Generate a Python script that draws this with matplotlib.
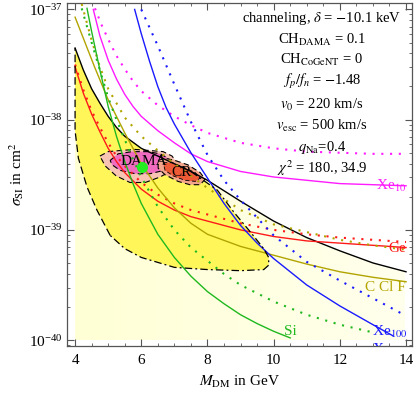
import matplotlib
matplotlib.use("Agg")
import matplotlib.pyplot as plt
from matplotlib.ticker import LogLocator, MultipleLocator, NullFormatter
import numpy as np

plt.rcParams['font.family'] = ['Liberation Serif', 'DejaVu Serif']
plt.rcParams['mathtext.fontset'] = 'stix'

# --- data (log10 of sigma_SI in cm^2) ---
m_black = [4.0, 4.25, 4.5, 4.75, 5.0, 5.25, 5.5, 6.0, 6.5, 7.0, 7.5, 8.0, 9.0, 10.0, 11.0, 12.0, 13.0, 14.0]
s_black = [-37.35, -37.55, -37.72, -37.85, -37.97, -38.07, -38.15, -38.26, -38.33, -38.40, -38.47, -38.55,
           -38.74, -38.92, -39.07, -39.19, -39.30, -39.38]

m_ge = [4.0, 4.25, 4.5, 4.75, 5.0, 5.25, 5.5, 6.0, 6.5, 7.0, 7.5, 8.0, 9.0, 10.0, 11.0, 12.0, 13.0, 14.0]
s_ge = [-37.52, -37.76, -37.95, -38.11, -38.26, -38.38, -38.48, -38.63, -38.74, -38.82, -38.88, -38.92,
        -39.00, -39.06, -39.10, -39.12, -39.14, -39.16]
s_ge_dot = [-37.50, -37.73, -37.92, -38.07, -38.21, -38.33, -38.42, -38.57, -38.68, -38.76, -38.82, -38.86,
            -38.94, -39.00, -39.04, -39.07, -39.09, -39.11]

m_cclf = [4.0, 4.3, 4.6, 5.0, 5.5, 6.0, 6.5, 7.0, 7.5, 8.0, 9.0, 10.0, 11.0, 12.0, 13.0, 14.0]
s_cclf = [-37.07, -37.30, -37.53, -37.82, -38.12, -38.40, -38.62, -38.80, -38.94, -39.04, -39.15, -39.23,
          -39.31, -39.38, -39.43, -39.47]
m_cclf_dot = [4.2, 4.5, 4.75, 5.0, 5.5, 6.0, 6.5, 7.0, 7.5, 8.0, 9.0, 10.0, 11.0, 12.0, 13.0, 14.0]
s_cclf_dot = [-36.95, -37.28, -37.52, -37.72, -37.98, -38.15, -38.28, -38.40, -38.51, -38.62, -38.82, -38.95,
              -39.02, -39.09, -39.14, -39.18]

m_si = [4.36, 4.5, 4.75, 5.0, 5.25, 5.5, 5.75, 6.0, 6.5, 7.0, 7.5, 8.0, 8.5, 9.0, 9.5, 10.0, 10.5]
s_si = [-36.99, -37.20, -37.55, -37.88, -38.15, -38.38, -38.58, -38.76, -39.04, -39.25, -39.42, -39.56,
        -39.67, -39.77, -39.85, -39.92, -39.98]
m_si_dot = [4.2, 4.5, 4.8, 5.0, 5.25, 5.5, 5.75, 6.0, 6.5, 7.0, 7.5, 8.0, 8.5, 9.0, 10.0, 11.0, 12.0, 13.0]
s_si_dot = [-36.99, -37.30, -37.60, -37.80, -38.00, -38.18, -38.36, -38.52, -38.79, -39.00, -39.16, -39.28,
            -39.40, -39.50, -39.65, -39.77, -39.86, -39.93]

m_xe10 = [4.55, 4.75, 5.0, 5.25, 5.5, 5.75, 6.0, 6.5, 7.0, 7.5, 8.0, 9.0, 10.0, 11.0, 12.0, 13.0, 14.0]
s_xe10 = [-37.0, -37.24, -37.46, -37.63, -37.77, -37.88, -37.97, -38.10, -38.21, -38.31, -38.38, -38.47,
          -38.52, -38.55, -38.58, -38.59, -38.60]
m_xe10_dot = [4.6, 4.8, 5.0, 5.25, 5.5, 5.75, 6.0, 6.5, 7.0, 7.5, 8.0, 9.0, 10.0, 11.0, 12.0, 13.0, 14.0]
s_xe10_dot = [-36.99, -37.14, -37.27, -37.42, -37.54, -37.65, -37.74, -37.87, -37.97, -38.05, -38.12, -38.21,
              -38.26, -38.29, -38.30, -38.31, -38.31]

m_xe100 = [5.8, 6.0, 6.25, 6.5, 6.75, 7.0, 7.25, 7.5, 8.0, 8.5, 9.0, 9.5, 10.0, 11.0, 12.0, 13.0, 13.6]
s_xe100 = [-37.0, -37.22, -37.47, -37.70, -37.89, -38.04, -38.17, -38.30, -38.53, -38.76, -38.96, -39.12,
           -39.26, -39.50, -39.69, -39.86, -39.96]
m_xe100_dot = [6.0, 6.5, 7.0, 7.5, 8.0, 8.5, 9.0, 10.0, 11.0, 12.0, 13.0, 14.0]
s_xe100_dot = [-37.0, -37.33, -37.68, -38.02, -38.32, -38.55, -38.73, -39.05, -39.29, -39.46, -39.62, -39.78]

# 90% region (bright yellow): right and bottom edge, top follows black line up to 7.5
m_reg_right = [7.5, 8.3, 8.8, 9.3, 9.7, 9.85, 9.85, 9.7, 9.0, 8.0, 7.0, 6.0, 5.5, 5.06]
s_reg_right = [-38.47, -38.64, -38.84, -39.02, -39.17, -39.25, -39.32, -39.36, -39.37, -39.36, -39.34, -39.25,
               -39.17, -39.05]
m_reg_left = [5.06, 4.66, 4.36, 4.1, 4.0, 4.0]
s_reg_left = [-39.05, -38.82, -38.61, -38.35, -38.1, -37.35]

m_dama_out = [4.75, 5.00, 5.36, 5.81, 6.27, 6.66, 6.93, 7.05, 6.93, 6.57, 6.12, 5.66, 5.24, 4.91]
s_dama_out = [-38.33, -38.29, -38.28, -38.27, -38.28, -38.29, -38.33, -38.38, -38.46, -38.52, -38.57, -38.57,
              -38.51, -38.42]
m_dama_in = [5.06, 5.30, 5.72, 6.21, 6.57, 6.81, 6.87, 6.69, 6.27, 5.81, 5.36, 5.12]
s_dama_in = [-38.37, -38.31, -38.29, -38.29, -38.31, -38.35, -38.40, -38.46, -38.49, -38.49, -38.46, -38.41]
m_cr_out = [6.51, 6.72, 7.02, 7.41, 7.78, 7.93, 7.78, 7.47, 7.11, 6.72, 6.51]
s_cr_out = [-38.37, -38.35, -38.37, -38.41, -38.48, -38.54, -38.59, -38.59, -38.56, -38.50, -38.44]
m_cr_in = [6.66, 6.93, 7.26, 7.63, 7.78, 7.63, 7.32, 6.96, 6.72]
s_cr_in = [-38.39, -38.39, -38.43, -38.48, -38.53, -38.56, -38.55, -38.51, -38.46]

best_fit = (6.02, -38.43)

info_lines = ["channeling, $\\delta$ = $-$10.1 keV", "CH$_{\\rm DAMA}$ = 0.1", "CH$_{\\rm CoGeNT}$ = 0",
              "$f_p/f_n$ = $-$1.48", "$v_0$ = 220 km/s", "$v_{\\rm esc}$ = 500 km/s",
              "$q_{\\rm Na}$=0.4", "$\\chi^2$ = 180., 34.9"]


def sig(a):
    return 10.0 ** np.asarray(a)


fig = plt.figure(figsize=(4.17, 3.95), dpi=100)
ax = fig.add_axes([0.161, 0.125, 0.827, 0.867])
ax.set_yscale('log')
ax.set_xlim(3.76, 14.18)
ax.set_ylim(10 ** -40.05, 10 ** -36.943)

# pale allowed region with a soft gradient
m_b = np.array(m_black)
pale = ax.fill_between(m_b, sig(np.full(len(m_b), -40.0)), sig(s_black), color='none', lw=0)
grad = np.linspace(0, 1, 200)
gx, gy = np.meshgrid(grad, grad[::-1])
t = np.clip(0.55 * gx + 0.45 * (1 - gy), 0, 1)
c0 = np.array([1.0, 1.0, 0.76])
c1 = np.array([1.0, 1.0, 0.93])
img = c0[None, None, :] * (1 - t[..., None]) + c1[None, None, :] * t[..., None]
im = ax.imshow(img, extent=[4, 14, 1e-40, 1e-37], aspect='auto', zorder=0.5)
im.set_clip_path(pale.get_paths()[0], transform=ax.transData)

# bright 90% region
top_m = [m for m in m_black if m < 7.5]
top_s = [s for m, s in zip(m_black, s_black) if m < 7.5]
poly_m = top_m + m_reg_right + m_reg_left
poly_s = top_s + s_reg_right + s_reg_left
ax.fill(poly_m, sig(poly_s), color='#fff75a', lw=0, zorder=1)
ax.plot(m_reg_left, sig(s_reg_left), color='k', lw=0.9, ls=(0, (6, 3)), zorder=4)
ax.plot(m_reg_right, sig(s_reg_right), color='k', lw=0.9, ls=(0, (6, 2.5, 1.5, 2.5)), zorder=4)

# DAMA and CoGeNT regions
ax.fill(m_dama_out, sig(s_dama_out), facecolor='#f7c4b4', edgecolor='k', lw=0.8, ls=(0, (5, 3)), zorder=2)
ax.fill(m_dama_in, sig(s_dama_in), facecolor='#f06cc0', edgecolor='k', lw=0.8, ls=(0, (5, 3)), zorder=2.1)
ax.fill(m_cr_out, sig(s_cr_out), facecolor='#f4a68c', edgecolor='k', lw=0.8, ls=(0, (5, 3)), zorder=2.2)
ax.fill(m_cr_in, sig(s_cr_in), facecolor='#ee5a36', edgecolor='k', lw=0.6, ls=(0, (5, 3)), zorder=2.3)

# exclusion curves
dots = (0, (1.0, 3.2))
ax.plot(m_black, sig(s_black), color='k', lw=1.0, zorder=3)
ax.plot(m_ge, sig(s_ge), color='#ff1a1a', lw=1.0, zorder=3)
ax.plot(m_ge, sig(s_ge_dot), color='#ff1a1a', lw=1.5, ls=dots, zorder=3)
ax.plot(m_cclf, sig(s_cclf), color='#b2a400', lw=1.0, zorder=3)
ax.plot(m_cclf_dot, sig(s_cclf_dot), color='#b2a400', lw=1.5, ls=dots, zorder=3)
ax.plot(m_si, sig(s_si), color='#1fb81f', lw=1.0, zorder=3)
ax.plot(m_si_dot, sig(s_si_dot), color='#1fb81f', lw=1.5, ls=dots, zorder=3)
ax.plot(m_xe10, sig(s_xe10), color='#ff1aff', lw=1.0, zorder=3)
ax.plot(m_xe10_dot, sig(s_xe10_dot), color='#ff1aff', lw=1.5, ls=dots, zorder=3)
ax.plot(m_xe100, sig(s_xe100), color='#1a1aff', lw=1.0, zorder=3)
ax.plot(m_xe100_dot, sig(s_xe100_dot), color='#1a1aff', lw=1.5, ls=dots, zorder=3)

ax.plot([best_fit[0]], [10 ** best_fit[1]], 'o', color='#22ee22', ms=8, mec='none', zorder=6)
ax.text(6.08, 10 ** -38.384, 'DAMA', fontsize=11, ha='center', va='center', zorder=5)
ax.text(7.23, 10 ** -38.475, 'CR', fontsize=11, ha='center', va='center', zorder=5)

# curve labels
lab = dict(fontsize=11, ha='right', va='center', zorder=5)
ax.text(14.0, 10 ** -38.60, 'Xe$_{10}$', color='#ff1aff', **lab)
ax.text(14.0, 10 ** -39.165, 'Ge', color='#ff1a1a', **lab)
ax.text(14.0, 10 ** -39.52, 'C Cl F', color='#b2a400', **lab)
ax.text(10.7, 10 ** -39.925, 'Si', color='#1fb81f', **lab)
ax.text(14.05, 10 ** -39.925, 'Xe$_{100}$', color='#1a1aff', **lab)
ax.text(14.05, 10 ** -40.09, 'Xe$_{100}$', color='#1a1aff', clip_on=True, **lab)

# parameter block
ys = [18, 40, 60, 81, 105, 126, 147, 168]
for s, py in zip(info_lines, ys):
    ax.text(0.739, (345.7 - py) / 342.7, s, transform=ax.transAxes, fontsize=10.5,
            ha='center', va='center', zorder=5)

ax.set_xlabel('$M_{\\rm DM}$ in GeV', fontsize=11, labelpad=5)
ax.set_ylabel('$\\sigma_{\\rm SI}$ in cm$^2$', fontsize=11, labelpad=2)
ax.xaxis.set_major_locator(MultipleLocator(2))
ax.xaxis.set_minor_locator(MultipleLocator(0.5))
ax.yaxis.set_major_locator(LogLocator(base=10, numticks=10))
ax.yaxis.set_minor_locator(LogLocator(base=10, subs=np.arange(2, 10), numticks=20))
ax.yaxis.set_minor_formatter(NullFormatter())
ax.tick_params(which='both', direction='in', top=True, right=True, labelsize=11, color='#555555')
ax.tick_params(axis='x', which='major', pad=6)
ax.tick_params(which='major', length=5, width=0.8)
ax.tick_params(which='minor', length=2.5, width=0.6)
for sp in ax.spines.values():
    sp.set_color('#555555')
    sp.set_linewidth(0.9)

fig.savefig('out.png', dpi=100)
